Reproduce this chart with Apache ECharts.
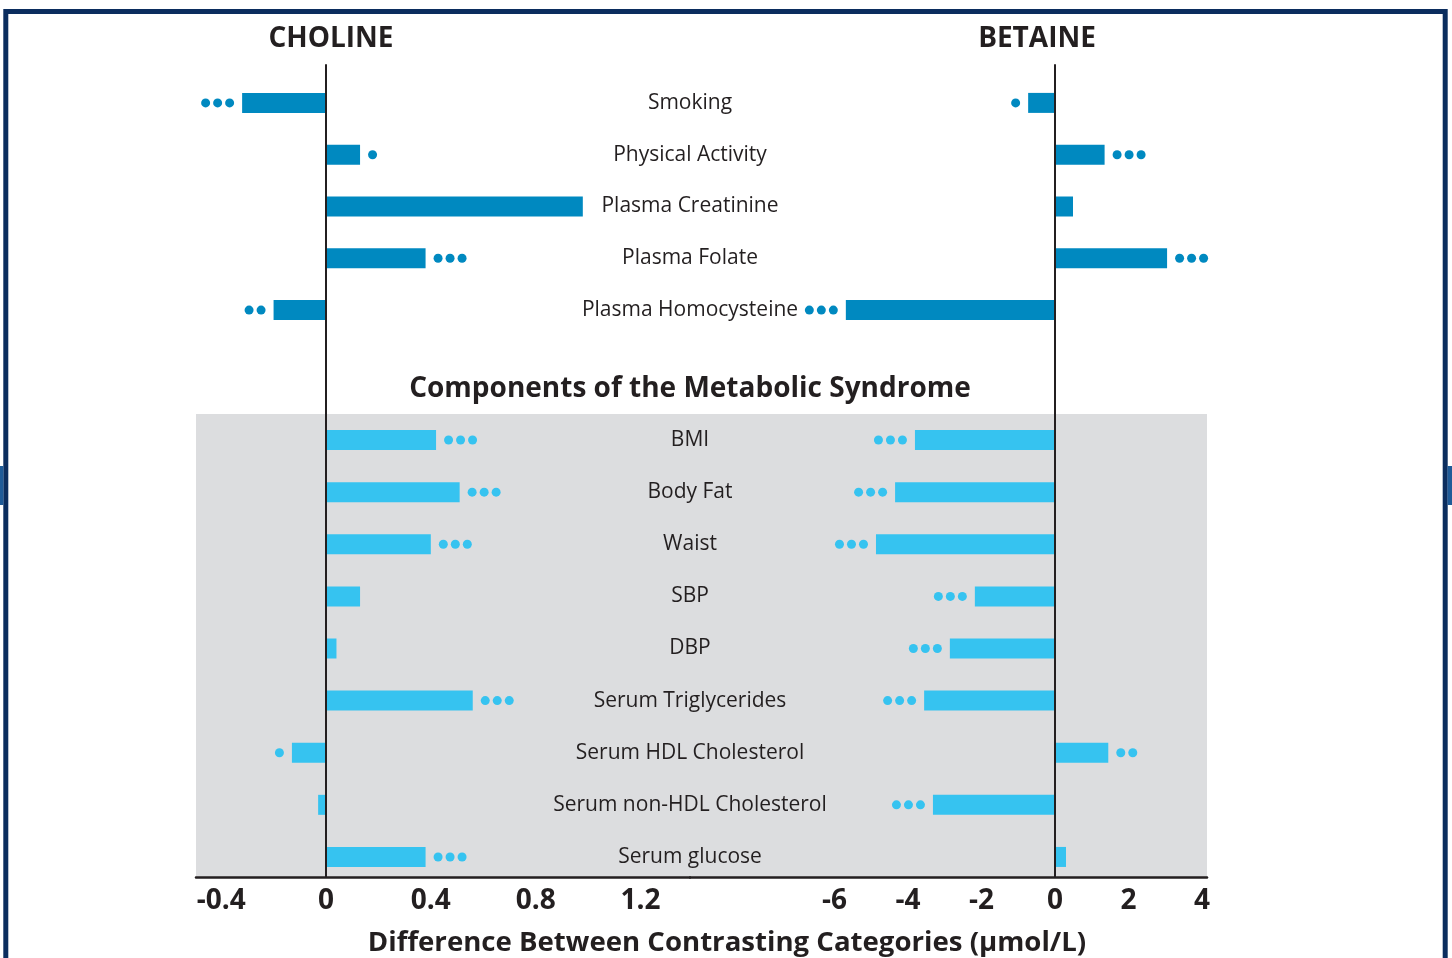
<!DOCTYPE html>
<html>
<head>
<meta charset="utf-8">
<title>Choline and betaine differences</title>
<script src="https://cdn.jsdelivr.net/npm/echarts@6/dist/echarts.min.js"></script>
<style>
  html, body { margin: 0; padding: 0; background: #fff; }
  #chart { width: 1452px; height: 958px; }
</style>
</head>
<body>
<div id="chart"></div>
<script>
// categories
const determinants = ["Smoking", "Physical Activity", "Plasma Creatinine", "Plasma Folate", "Plasma Homocysteine"];
const components = ["BMI", "Body Fat", "Waist", "SBP", "DBP", "Serum Triglycerides",
  "Serum HDL Cholesterol", "Serum non-HDL Cholesterol", "Serum glucose"];

// difference between contrasting categories (umol/L)
const cholineDet = [-0.32, 0.13, 0.98, 0.38, -0.20];
const betaineDet = [-0.73, 1.35, 0.49, 3.05, -5.69];
const cholineMet = [0.42, 0.51, 0.40, 0.13, 0.04, 0.56, -0.13, -0.03, 0.38];
const betaineMet = [-3.81, -4.35, -4.87, -2.18, -2.86, -3.56, 1.45, -3.32, 0.30];

// number of significance dots next to each bar
const cholineDetSig = [3, 1, 0, 3, 2];
const betaineDetSig = [1, 3, 0, 3, 3];
const cholineMetSig = [3, 3, 3, 0, 0, 3, 1, 0, 3];
const betaineMetSig = [3, 3, 3, 3, 3, 3, 2, 3, 0];

// tick labels
const cholineTicks = [-0.4, 0, 0.4, 0.8, 1.2];
const betaineTicks = [-6, -4, -2, 0, 2, 4];

const FONT = "'Open Sans', 'Noto Sans', sans-serif";
const INK = "#231f20";
const DARK = "#0089c0";
const LIGHT = "#36c3f0";
const GRAY = "#dcdddf";

const cholineRange = [-0.496, 1.389];
const betaineRange = [-9.93, 4.136];

const chart = echarts.init(document.getElementById("chart"));

// left panel ends / right panel starts at the label column centre
const L = { left: 196, width: 494 };
const R = { left: 690, width: 517 };

const grids = [
  { ...L, top: 65, height: 349 },            // 0 choline zero line (upper)
  { ...R, top: 65, height: 349 },            // 1 betaine zero line (upper)
  { ...L, top: 414, height: 463, show: true, backgroundColor: GRAY, borderWidth: 0 }, // 2
  { ...R, top: 414, height: 463, show: true, backgroundColor: GRAY, borderWidth: 0 }, // 3
  { ...L, top: 77, height: 259 },            // 4 choline determinants
  { ...R, top: 77, height: 259 },            // 5 betaine determinants
  { ...L, top: 414, height: 469 },           // 6 choline metabolic
  { ...R, top: 414, height: 469 }            // 7 betaine metabolic
];

const ranges = [cholineRange, betaineRange];
const ticks = [cholineTicks, betaineTicks];

const xAxes = grids.map((g, i) => {
  const side = i % 2;
  const withLabels = i === 2 || i === 3;
  return {
    type: "value", gridIndex: i,
    min: ranges[side][0], max: ranges[side][1],
    show: withLabels,
    z: 5,
    axisLine: { show: true, onZero: false, lineStyle: { color: INK, width: 2.5 } },
    axisTick: { show: false },
    splitLine: { show: false },
    axisLabel: {
      customValues: ticks[side], margin: 10,
      fontSize: 28, fontWeight: "bold", fontFamily: FONT, color: INK
    }
  };
});

const yAxes = grids.map((g, i) => {
  if (i < 4) {
    return {
      type: "value", gridIndex: i, min: 0, max: 1, z: 5,
      axisLine: { show: true, onZero: true, lineStyle: { color: INK, width: 2 } },
      axisTick: { show: false }, axisLabel: { show: false }, splitLine: { show: false }
    };
  }
  const cats = i < 6 ? determinants : components;
  return {
    type: "category", gridIndex: i, data: cats, inverse: true,
    position: "right", z: 6,
    axisLine: { show: false, onZero: false },
    axisTick: { show: false }, splitLine: { show: false },
    axisLabel: {
      show: i % 2 === 0, align: "center", margin: 0,
      fontSize: 21, fontFamily: FONT, color: INK
    }
  };
});

function dots(n) {
  const parts = [];
  for (let k = 0; k < n; k++) parts.push("{d|}");
  return parts.join("{g|}");
}

function barSeries(name, values, sig, idx, color) {
  return {
    name: name, type: "bar", xAxisIndex: idx, yAxisIndex: idx,
    barWidth: 20, silent: true,
    itemStyle: { color: color },
    data: values.map(v => ({ value: v, label: { position: v < 0 ? "left" : "right" } })),
    label: {
      show: true, distance: 8,
      formatter: p => dots(sig[p.dataIndex]),
      rich: {
        d: { width: 9, height: 9, borderRadius: 4.5, backgroundColor: color },
        g: { width: 3, height: 9 }
      }
    }
  };
}

function heading(text, x, y, size) {
  return {
    type: "text", x: x, y: y, z: 10,
    style: {
      text: text, align: "center", verticalAlign: "middle",
      fontSize: size, fontWeight: "bold", fontFamily: FONT, fill: INK
    }
  };
}

chart.setOption({
  animation: false,
  backgroundColor: "#fff",
  grid: grids,
  xAxis: xAxes,
  yAxis: yAxes,
  series: [
    barSeries("Choline", cholineDet, cholineDetSig, 4, DARK),
    barSeries("Betaine", betaineDet, betaineDetSig, 5, DARK),
    barSeries("Choline", cholineMet, cholineMetSig, 6, LIGHT),
    barSeries("Betaine", betaineMet, betaineMetSig, 7, LIGHT)
  ],
  graphic: [
    { type: "rect", z: -10, shape: { x: 5.8, y: 11.5, width: 1439.4, height: 980 },
      style: { fill: "#fff", stroke: "#0b2d5e", lineWidth: 5 } },
    { type: "rect", z: -9, shape: { x: 0, y: 466, width: 3.4, height: 39 }, style: { fill: "#1f5b98" } },
    { type: "rect", z: -9, shape: { x: 1447.5, y: 466, width: 4.5, height: 39 }, style: { fill: "#1f5b98" } },
    heading("CHOLINE", 331, 39, 28),
    heading("BETAINE", 1037, 39, 28),
    heading("Components of the Metabolic Syndrome", 690, 389, 28),
    heading("Difference Between Contrasting Categories (\u00b5mol/L)", 727, 943, 27.6)
  ]
});
</script>
</body>
</html>
